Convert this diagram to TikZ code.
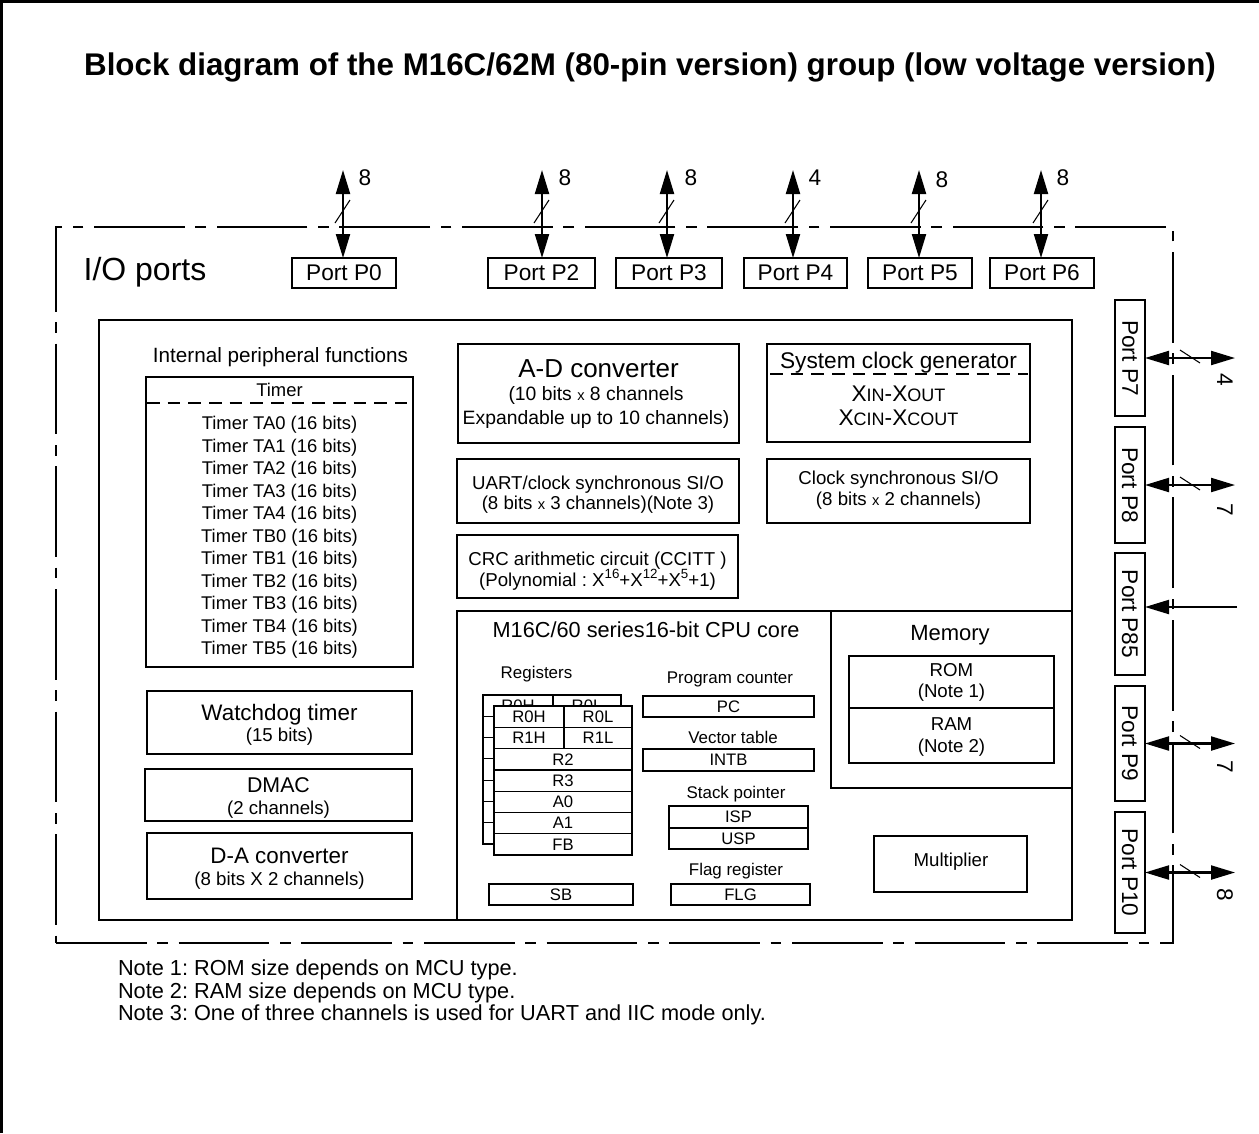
\documentclass[tikz,border=0pt]{standalone}
\usepackage{fontspec}
\setmainfont{Liberation Sans}
\usetikzlibrary{arrows.meta}
\frenchspacing
\newcommand\fsz[1]{\fontsize{#1}{#1}\selectfont}
\newcommand\smx{{\fsz{11}x}}
\newcommand\supx[1]{\raisebox{0.45em}{\fsz{10}#1}}
\newcommand\rbox[7][]{\node[bx,#1,minimum width={(#5-#3)*0.75pt},minimum height={(#6-#4)*0.75pt}] (#2) at ({(#3+#5)/2},{(#4+#6)/2}) {#7};}
\begin{document}
\begin{tikzpicture}[x=0.75pt,y=-0.75pt,
  bx/.style={draw, line width=0.9pt, inner sep=0pt, outer sep=0pt, rectangle},
  lbl/.style={inner sep=0pt, outer sep=0pt, anchor=base},
  num/.style={inner sep=0pt, outer sep=0pt, font=\fsz{17}},
  arr/.style={line width=1.6pt, {Triangle[length=18pt,width=10.5pt]}-{Triangle[length=18pt,width=10.5pt]}},
  arrl/.style={line width=1.6pt, -{Triangle[length=18pt,width=10.5pt]}},
  tk/.style={line width=0.8pt},
  dsh/.style={line width=0.9pt, dash pattern=on 9.5pt off 6pt},
  frm/.style={line width=1pt, dash pattern=on 68pt off 8pt on 8pt off 8pt},
  pfont/.style={font=\fsz{17}},
  rfont/.style={font=\fsz{12.5}},
  wcell/.style={fill=white, font=\fsz{12.5}},
]
\useasboundingbox (0,0) rectangle (1259,1133);
\draw[line width=2.2pt] (1.5,1133) -- (1.5,1.5) -- (1259,1.5);
\node[lbl,font=\bfseries\fsz{23.5}] (title) at (650,75) {Block diagram of the M16C/62M (80-pin version) group (low voltage version)};

% I/O ports frame
\rbox[frm]{io}{56}{227}{1173}{943}{}
\node[lbl,font=\fsz{24}] (iol) at (145,280) {I/O ports};

% top ports
\rbox[pfont]{p0}{292}{258}{396}{288}{Port P0}
\rbox[pfont]{p2}{488}{258}{595}{288}{Port P2}
\rbox[pfont]{p3}{616}{258}{722}{288}{Port P3}
\rbox[pfont]{p4}{744}{258}{847}{288}{Port P4}
\rbox[pfont]{p5}{868}{258}{972}{288}{Port P5}
\rbox[pfont]{p6}{990}{258}{1094}{288}{Port P6}
\coordinate (a0) at (343,170);
\coordinate (a2) at (542,170);
\coordinate (a3) at (667,170);
\coordinate (a4) at (793,170);
\coordinate (a5) at (919,170);
\coordinate (a6) at (1041,170);
\draw[arr] (a0) -- (a0 |- p0.north);
\draw[arr] (a2) -- (a2 |- p2.north);
\draw[arr] (a3) -- (a3 |- p3.north);
\draw[arr] (a4) -- (a4 |- p4.north);
\draw[arr] (a5) -- (a5 |- p5.north);
\draw[arr] (a6) -- (a6 |- p6.north);
\draw[tk] (335,223) -- (350,200);
\draw[tk] (534,223) -- (549,200);
\draw[tk] (659,223) -- (674,200);
\draw[tk] (785,223) -- (800,200);
\draw[tk] (911,223) -- (926,200);
\draw[tk] (1033,223) -- (1048,200);
\node[num] (n0) at (365,178) {8};
\node[num] (n2) at (565,178) {8};
\node[num] (n3) at (691,178) {8};
\node[num] (n4) at (815,178) {4};
\node[num] (n5) at (942,180) {8};
\node[num] (n6) at (1063,178) {8};

% right ports
\node[bx,pfont,rotate=-90,minimum width={116*0.75pt},minimum height={30*0.75pt}] (p7) at (1130,358) {Port P7};
\node[bx,pfont,rotate=-90,minimum width={116*0.75pt},minimum height={30*0.75pt}] (p8) at (1130,485) {Port P8};
\node[bx,pfont,rotate=-90,minimum width={122*0.75pt},minimum height={30*0.75pt}] (p85) at (1130,614) {Port P85};
\node[bx,pfont,rotate=-90,minimum width={115*0.75pt},minimum height={30*0.75pt}] (p9) at (1130,743.5) {Port P9};
\node[bx,pfont,rotate=-90,minimum width={121*0.75pt},minimum height={30*0.75pt}] (p10) at (1130,872.5) {Port P10};
\coordinate (b7) at (1235,358);
\coordinate (b8) at (1235,485);
\coordinate (b85) at (1237,607);
\coordinate (b9) at (1235,743.5);
\coordinate (b10) at (1235,872.5);
\draw[arr] (p7.north) -- (b7);
\draw[arr] (p8.north) -- (b8);
\draw[arrl] (b85) -- (b85 -| p85.north);
\draw[arr] (p9.north) -- (b9);
\draw[arr] (p10.north) -- (b10);
\draw[tk] (1180,350) -- (1200,363);
\draw[tk] (1180,477) -- (1200,490);
\draw[tk] (1180,735.5) -- (1200,748.5);
\draw[tk] (1180,864.5) -- (1200,877.5);
\node[num,rotate=-90] (m7) at (1225,380) {4};
\node[num,rotate=-90] (m8) at (1225,510) {7};
\node[num,rotate=-90] (m9) at (1225,767) {7};
\node[num,rotate=-90] (m10) at (1225,895) {8};

% inner frame
\rbox{inner}{99}{320}{1072}{920}{}
\node[lbl,font=\fsz{15.5}] (ipf) at (280.5,362) {Internal peripheral functions};

% timers
\rbox{timer}{146}{377}{413}{667}{}
\draw[dsh] (147,403) -- (407,403);
\node[lbl,font=\fsz{13.8}] (tmh) at (279.5,396.6) {Timer};
\foreach \tn [count=\i from 0] in {TA0,TA1,TA2,TA3,TA4,TB0,TB1,TB2,TB3,TB4,TB5}
  \node[lbl,font=\fsz{13.8}] (tm\i) at (279.5,{429.6+22.5*\i}) {Timer \tn{} (16 bits)};

% watchdog, DMAC, D-A
\rbox{wdt}{147}{691}{412}{754}{}
\node[lbl,font=\fsz{16.8}] (wdt1) at (279.5,720) {Watchdog timer};
\node[lbl,font=\fsz{14}] (wdt2) at (279.5,741.7) {(15 bits)};
\rbox{dmac}{145}{769}{412}{821}{}
\node[lbl,font=\fsz{16}] (dmac1) at (278.5,792.6) {DMAC};
\node[lbl,font=\fsz{14}] (dmac2) at (278.5,814.7) {(2 channels)};
\rbox{dac}{147}{833}{412}{899}{}
\node[lbl,font=\fsz{16.8}] (dac1) at (279.5,863) {D-A converter};
\node[lbl,font=\fsz{14}] (dac2) at (279.5,885.7) {(8 bits X 2 channels)};

% A-D converter
\rbox{adc}{458}{344}{739}{443}{}
\node[lbl,font=\fsz{19.5}] (adc1) at (598.5,377.3) {A-D converter};
\node[lbl,font=\fsz{14.5}] (adc2) at (596,400) {(10 bits \smx{} 8 channels};
\node[lbl,font=\fsz{14.5}] (adc3) at (596,424) {Expandable up to 10 channels)};

% system clock generator
\rbox{clk}{767}{344}{1030}{442}{}
\draw[dsh] (770,374) -- (1028,374);
\node[lbl,font=\fsz{17}] (clk1) at (898.5,368) {System clock generator};
\node[lbl,font=\fsz{17}] (clk2) at (898.5,401) {X{\fsz{13.5}IN}-X{\fsz{13.5}OUT}};
\node[lbl,font=\fsz{17}] (clk3) at (898.5,425) {X{\fsz{13.5}CIN}-X{\fsz{13.5}COUT}};

% UART
\rbox{uart}{457}{459}{739}{523}{}
\node[lbl,font=\fsz{14}] (uart1) at (598,489.7) {UART/clock synchronous SI/O};
\node[lbl,font=\fsz{14}] (uart2) at (598,509.7) {(8 bits \smx{} 3 channels)(Note 3)};

% clock synchronous SI/O
\rbox{csio}{767}{459}{1030}{523}{}
\node[lbl,font=\fsz{14}] (csio1) at (898.5,484.7) {Clock synchronous SI/O};
\node[lbl,font=\fsz{14}] (csio2) at (898.5,505.7) {(8 bits \smx{} 2 channels)};

% CRC
\rbox{crc}{457}{535}{738}{598}{}
\node[lbl,font=\fsz{14}] (crc1) at (597.5,565.7) {CRC arithmetic circuit (CCITT )};
\node[lbl,font=\fsz{14}] (crc2) at (597.5,586.7) {(Polynomial : X\supx{16}+X\supx{12}+X\supx{5}+1)};

% CPU core and memory
\rbox{cpu}{457}{611}{1072}{920}{}
\node[lbl,font=\fsz{16.3}] (cpu1) at (646,637.8) {M16C/60 series16-bit CPU core};
\rbox{mem}{831}{611}{1072}{788}{}
\node[lbl,font=\fsz{16.5}] (mem1) at (950,640) {Memory};
\rbox{rom}{849}{656}{1054}{708}{}
\rbox{ram}{849}{708}{1054}{763}{}
\node[lbl,font=\fsz{14}] (rom1) at (951.5,676) {ROM};
\node[lbl,font=\fsz{14}] (rom2) at (951.5,697.7) {(Note 1)};
\node[lbl,font=\fsz{14}] (ram1) at (951.5,730.7) {RAM};
\node[lbl,font=\fsz{14}] (ram2) at (951.5,752.2) {(Note 2)};
\rbox{mul}{874}{836}{1027}{892}{}
\node[lbl,font=\fsz{14}] (mul1) at (951,866.2) {Multiplier};

% registers (back bank, partly hidden)
\node[lbl,font=\fsz{12.7}] (regl) at (536.5,678.6) {Registers};
\draw[bx] (483,695) rectangle (621,844);
\foreach \k in {1,...,6} \draw[bx] (483,{695+21.29*\k}) -- (621,{695+21.29*\k});
\draw[bx] (553,695) -- (553,737.6);
\begin{scope}
  \clip (484,696) rectangle (620,706);
  \node[lbl,rfont] (bk1) at (518,711.6) {R0H};
  \node[lbl,rfont] (bk2) at (587,711.6) {R0L};
\end{scope}
% front bank
\rbox[wcell]{r0h}{494}{706}{564}{727.3}{R0H}
\rbox[wcell]{r0l}{564}{706}{632}{727.3}{R0L}
\rbox[wcell]{r1h}{494}{727.3}{564}{748.6}{R1H}
\rbox[wcell]{r1l}{564}{727.3}{632}{748.6}{R1L}
\rbox[wcell]{r2}{494}{748.6}{632}{769.9}{R2}
\rbox[wcell]{r3}{494}{769.9}{632}{791.1}{R3}
\rbox[wcell]{ra0}{494}{791.1}{632}{812.4}{A0}
\rbox[wcell]{ra1}{494}{812.4}{632}{833.7}{A1}
\rbox[wcell]{rfb}{494}{833.7}{632}{855}{FB}
\rbox[wcell]{rsb}{489}{884}{633}{905}{SB}

\node[lbl,font=\fsz{12.7}] (pcl) at (730,683.6) {Program counter};
\rbox[wcell]{pc}{643}{696}{814}{717}{PC}
\node[lbl,font=\fsz{12.7}] (vtl) at (733,743) {Vector table};
\rbox[wcell]{intb}{643}{749}{814}{771}{INTB}
\node[lbl,font=\fsz{12.7}] (spl) at (736,798) {Stack pointer};
\rbox[wcell]{isp}{669}{806}{808}{828}{ISP}
\rbox[wcell]{usp}{669}{828}{808}{849}{USP}
\node[lbl,font=\fsz{12.7}] (flgl) at (736,875) {Flag register};
\rbox[wcell]{flg}{671}{884}{810}{905}{FLG}

% notes
\node[lbl,anchor=base west,font=\fsz{16.3}] (note1) at (118,975.8) {Note 1: ROM size depends on MCU type.};
\node[lbl,anchor=base west,font=\fsz{16.3}] (note2) at (118,998.3) {Note 2: RAM size depends on MCU type.};
\node[lbl,anchor=base west,font=\fsz{16.3}] (note3) at (118,1020.8) {Note 3: One of three channels is used for UART and IIC mode only.};
\end{tikzpicture}
\end{document}
